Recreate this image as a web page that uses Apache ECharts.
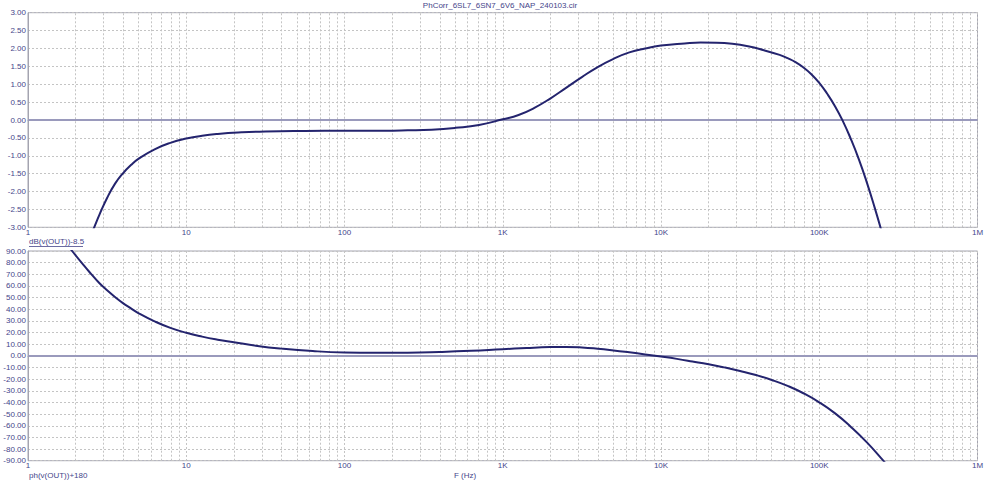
<!DOCTYPE html>
<html><head><meta charset="utf-8">
<script src="https://cdn.jsdelivr.net/npm/echarts@6/dist/echarts.min.js"></script>
<style>html,body{margin:0;padding:0;background:#fff}#c{width:1000px;height:497px}</style>
</head><body><div id="c"></div>
<script>
const titleText = 'PhCorr_6SL7_6SN7_6V6_NAP_240103.cir';
const magLabel = 'dB(v(OUT))-8.5';
const phaseLabel = 'ph(v(OUT))+180';
const xLabel = 'F (Hz)';
const xTickLabels = {1:'1',10:'10',100:'100',1000:'1K',10000:'10K',100000:'100K',1000000:'1M'};

// Magnitude (dB) curve (ends run just past the plot edge and are clipped)
const magFreq = [2.51, 2.62, 2.82, 3.16, 3.55, 3.98, 4.47, 5.01, 6.31, 7.94, 10, 12.6, 15.8, 22.4, 31.6, 56, 100, 178, 251, 355, 501, 708,
  1000, 1259, 1585, 1995, 2512, 3162, 3981, 5012, 6310, 7943, 10000, 14100, 17800, 22400, 28200, 35500, 44700,
  56200, 63100, 70800, 79400, 89100, 100000, 112000, 126000, 141000, 158000, 178000, 200000, 224000, 251000];
const magDb = [-3.19, -3.0, -2.66, -2.18, -1.78, -1.49, -1.26, -1.08, -0.82, -0.64, -0.52, -0.44, -0.39, -0.345, -0.32, -0.305, -0.30, -0.30, -0.29, -0.27, -0.22, -0.14,
  0.02, 0.14, 0.34, 0.60, 0.90, 1.20, 1.48, 1.71, 1.89, 2.00, 2.08, 2.14, 2.165, 2.16, 2.13, 2.06, 1.95,
  1.82, 1.73, 1.62, 1.47, 1.28, 1.04, 0.74, 0.38, -0.03, -0.52, -1.10, -1.75, -2.45, -3.20];

// Phase (deg) curve (ends run just past the plot edge and are clipped)
const phFreq = [1.78, 1.9, 2.24, 2.51, 2.82, 3.16, 3.55, 3.98, 4.47, 5.01, 6.31, 7.94, 10, 12.6, 15.8, 20, 28.2, 39.8, 63, 100, 158, 251, 398, 631,
  1000, 1413, 1995, 2512, 3162, 3981, 5012, 6310, 7943, 10000, 12600, 15800, 20000, 25100, 31600, 39800, 50100,
  63100, 79400, 100000, 126000, 158000, 200000, 254000, 282000];
const phDeg = [95, 90, 78, 70.2, 62.5, 56.3, 50.5, 45.3, 40.8, 36.5, 29.6, 24.0, 19.8, 16.5, 13.9, 11.7, 8.5, 6.2, 4.1, 2.9, 2.6, 2.7, 3.3, 4.3,
  5.75, 6.75, 7.5, 7.65, 7.2, 6.1, 4.65, 3.0, 1.25, -0.6, -2.6, -4.8, -7.2, -9.9, -13.0, -16.5, -20.7,
  -25.8, -32.1, -39.9, -49.4, -60.8, -74.3, -90, -97];

const minorGrid = [];
for (let d = 1; d < 1e6; d *= 10) for (let k = 2; k <= 9; k++) minorGrid.push(k * d);

const txt = '#45458a', curve = '#24246e', gridC = '#c4c4c4', frameC = '#a4a4b0', zeroC = '#9a9abc';
const font = 'Liberation Sans, Arial, sans-serif';

function xAxis(gi) {
  return {
    type: 'log', logBase: 10, min: 1, max: 1e6, gridIndex: gi,
    axisLine: {show: true, lineStyle: {color: frameC, width: 1}},
    axisTick: {show: false},
    axisLabel: {color: txt, fontSize: 8, fontFamily: font, margin: 1,
      formatter: v => xTickLabels[Math.round(v)] || ''},
    splitLine: {show: true, lineStyle: {color: gridC, type: [2, 2], width: 1}}
  };
}
function yAxis(gi, min, max, interval) {
  return {
    type: 'value', min, max, interval, gridIndex: gi,
    axisLine: {show: true, lineStyle: {color: frameC, width: 1}},
    axisTick: {show: false},
    axisLabel: {color: txt, fontSize: 8, fontFamily: font, margin: 2,
      formatter: v => v.toFixed(2)},
    splitLine: {show: true, lineStyle: {color: gridC, type: [2, 2], width: 1}}
  };
}
function markLines() {
  return {
    silent: true, symbol: ['none', 'none'], label: {show: false},
    animation: false,
    data: minorGrid.map(v => ({xAxis: v, lineStyle: {color: gridC, type: [2, 2], width: 1}}))
      .concat([{yAxis: 0, lineStyle: {color: zeroC, type: 'solid', width: 2}}])
  };
}
const tStyle = {color: txt, fontSize: 8, fontWeight: 'normal', fontFamily: font};

const chart = echarts.init(document.getElementById('c'), null, {renderer: 'svg'});
chart.setOption({
  animation: false,
  backgroundColor: '#fff',
  title: [
    {text: titleText, left: 'center', top: 1, padding: 0, textStyle: tStyle},
    {text: magLabel, left: 29, top: 237.5, padding: 0, textStyle: tStyle},
    {text: phaseLabel, left: 29, top: 471, padding: 0, textStyle: tStyle},
    {text: xLabel, left: 454, top: 471, padding: 0, textStyle: tStyle}
  ],
  graphic: [{type: 'line', shape: {x1: 29, y1: 246.5, x2: 83, y2: 246.5}, style: {stroke: txt, lineWidth: 0.8}}],
  grid: [
    {left: 28, right: 22.5, top: 12.7, height: 214.6, show: true, borderColor: frameC, borderWidth: 1},
    {left: 28, right: 22.5, top: 251, height: 209.7, show: true, borderColor: frameC, borderWidth: 1}
  ],
  xAxis: [xAxis(0), xAxis(1)],
  yAxis: [yAxis(0, -3, 3, 0.5), yAxis(1, -90, 90, 10)],
  series: [
    {type: 'line', xAxisIndex: 0, yAxisIndex: 0, data: magFreq.map((f, i) => [f, magDb[i]]), clip: true,
     smooth: 0.5, showSymbol: false, lineStyle: {color: curve, width: 2}, markLine: markLines(), z: 5},
    {type: 'line', xAxisIndex: 1, yAxisIndex: 1, data: phFreq.map((f, i) => [f, phDeg[i]]), clip: true,
     smooth: 0.5, showSymbol: false, lineStyle: {color: curve, width: 2}, markLine: markLines(), z: 5}
  ]
});
</script></body></html>
